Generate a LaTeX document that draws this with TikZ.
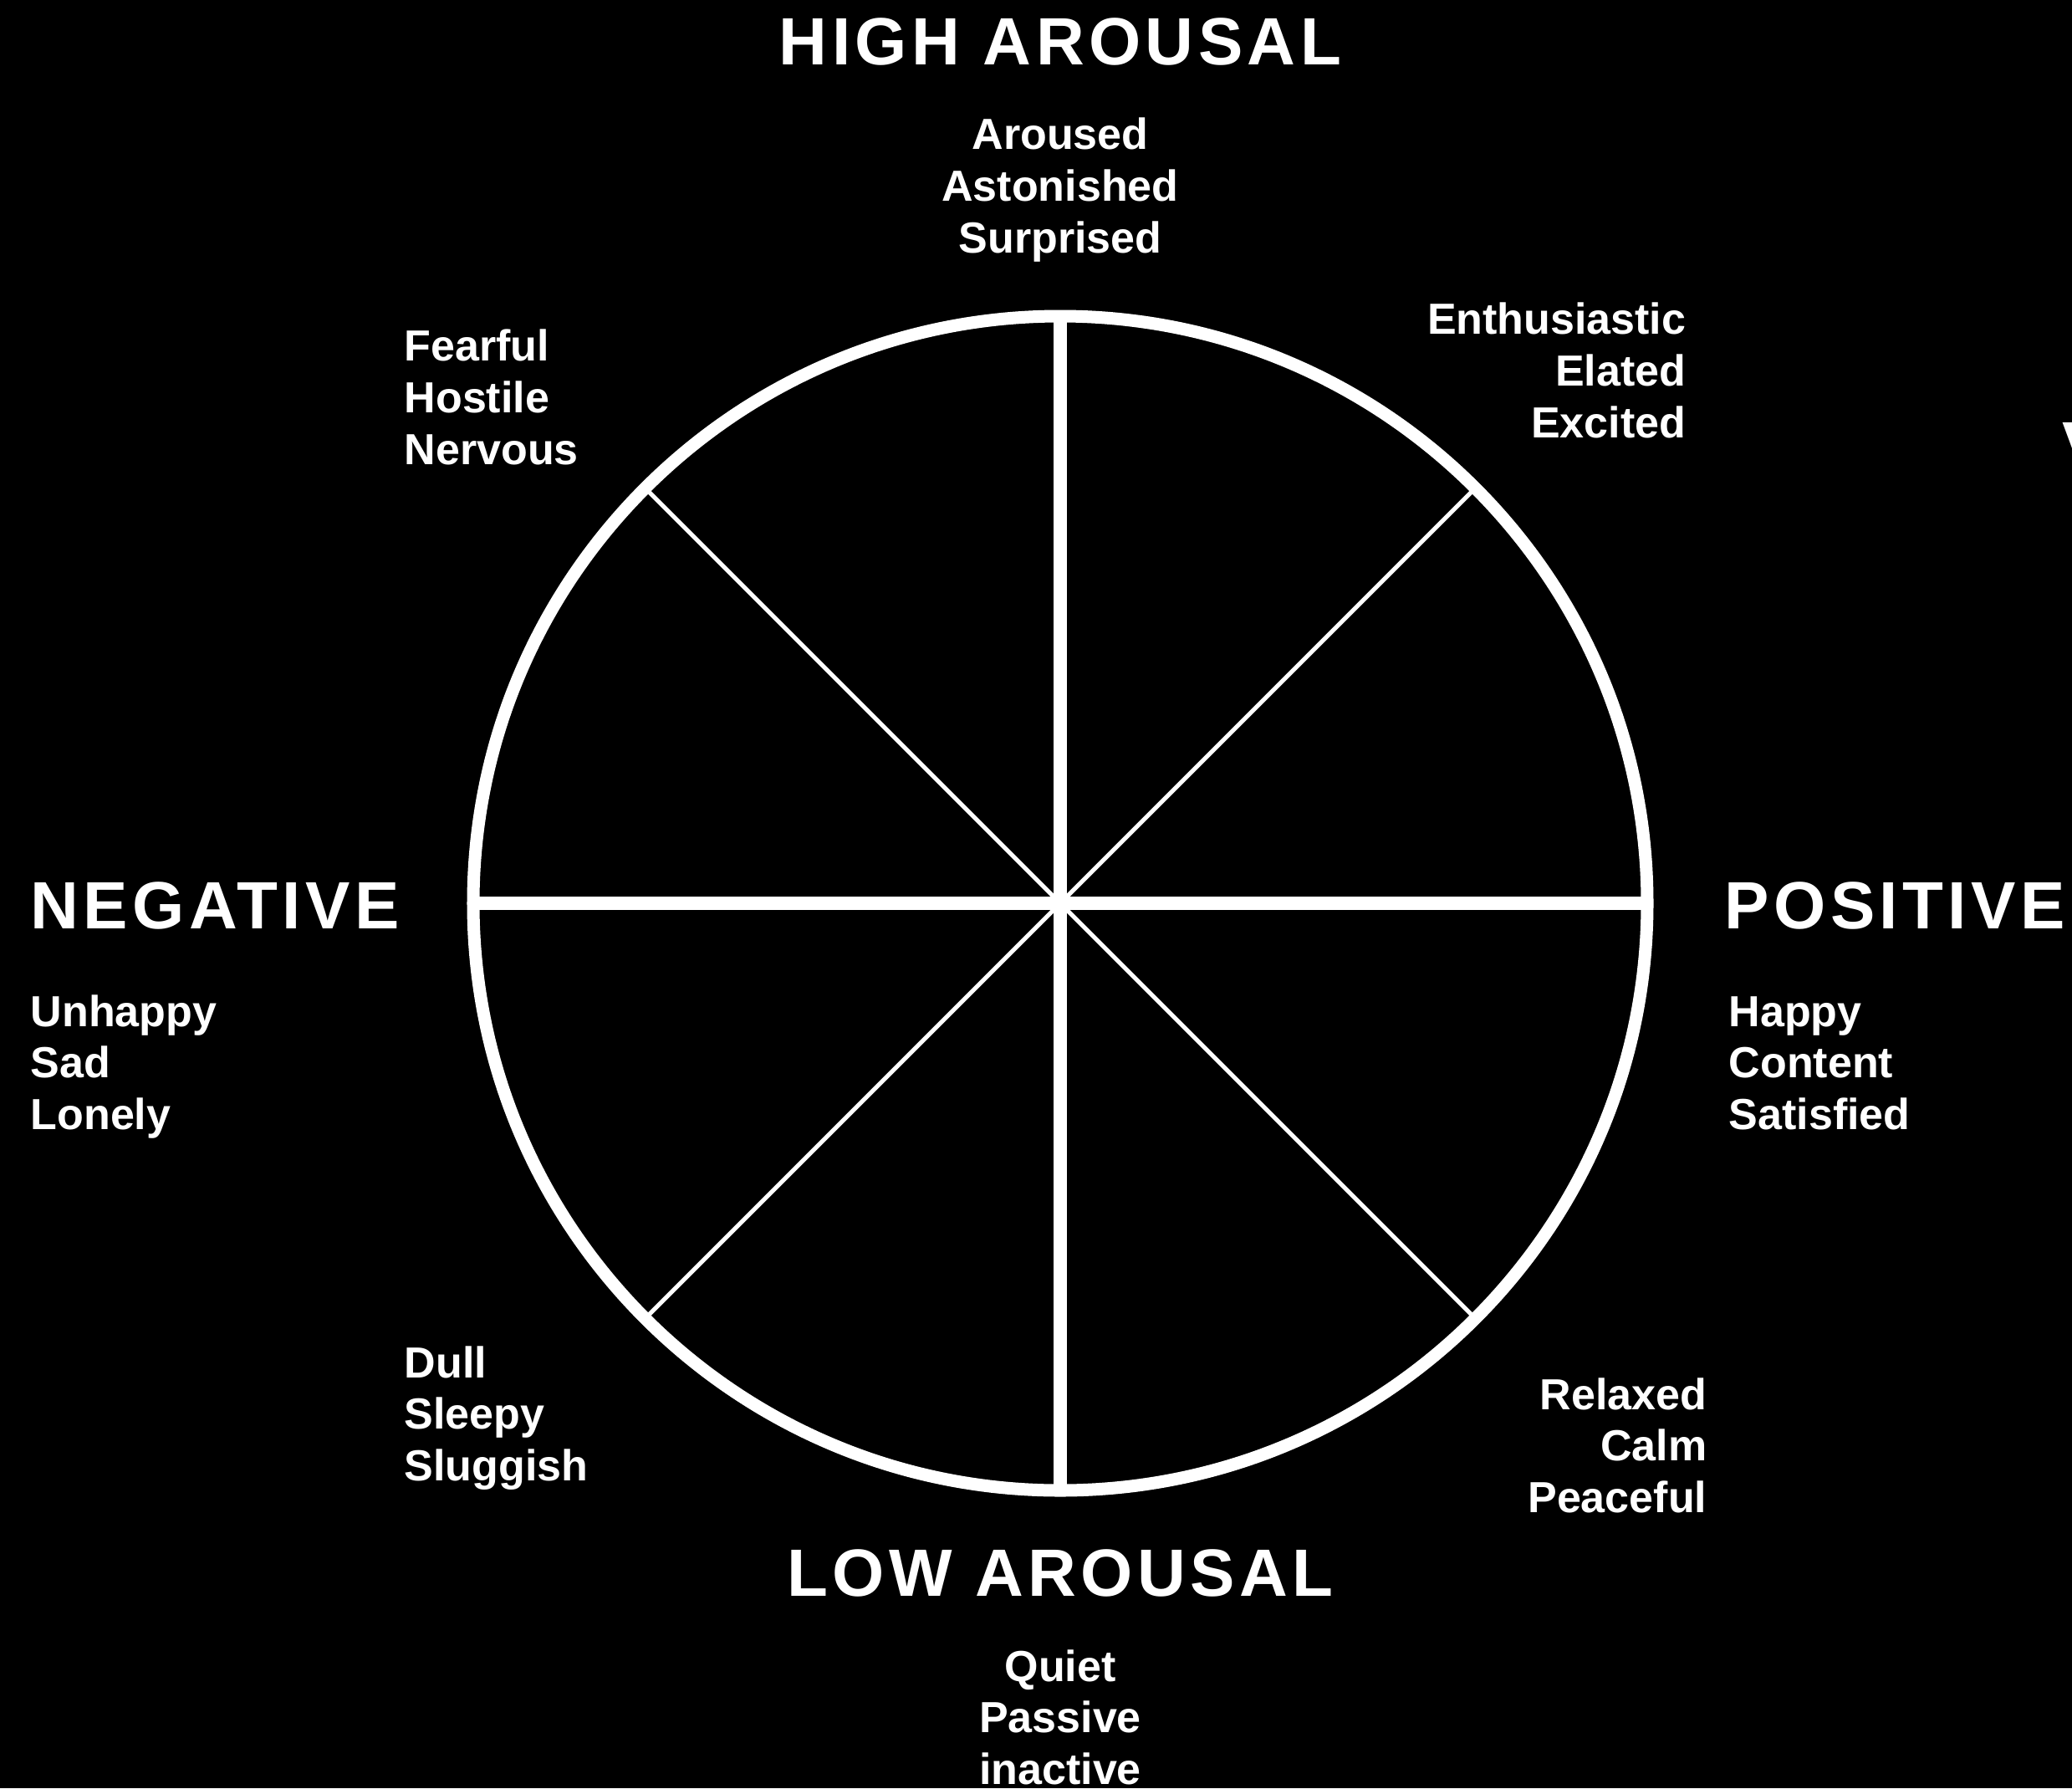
\documentclass[tikz,border=0pt]{standalone}
\usepackage{fontspec}
\setmainfont{Liberation Sans}
\newfontfamily\headfont{Liberation Sans}[LetterSpace=6.8]

\begin{document}
\begin{tikzpicture}[
    rim/.style={draw=white, line width=.15cm},
    axis/.style={draw=white, line width=.16cm},
    spoke/.style={draw=white, line width=.05cm},
    heading/.style={text=white, inner sep=0,
        font=\headfont\bfseries\fontsize{22.76}{27}\selectfont},
    feeling/.style={text=white, inner sep=0,
        font=\bfseries\fontsize{14.8}{17.5}\selectfont},
]
    %% black page, 2478 x 2138 px at 100 px per cm
    \fill[black] (-12.68, -10.58) rectangle (12.10, 10.80);
    \useasboundingbox (-12.68, -10.58) rectangle (12.10, 10.80);

    %% the wheel: hub, rim points, spokes and the two axes
    \coordinate (hub) at (0, 0);
    \foreach \a in {0, 45, ..., 315}{
        \coordinate (rim-\a) at (\a:7.02);
    }
    \foreach \a in {45, 135, 225, 315}{
        \draw[spoke] (hub) -- (rim-\a);
    }
    \draw[axis] (rim-180) -- (rim-0);
    \draw[axis] (rim-90) -- (rim-270);
    \draw[rim] (hub) circle (7.02);

    %% the four poles
    \node[heading, anchor=base] (high) at (0, 10.02) {HIGH AROUSAL};
    \node[heading, anchor=base] (low) at (0, -8.28) {LOW AROUSAL};
    \node[heading, anchor=base west] (neg) at (-12.32, -.30) {NEGATIVE};
    \node[heading, anchor=base west] (pos) at (7.94, -.30) {POSITIVE};
    \node[heading, anchor=base west] (cut) at (11.98, 5.20) {V};

    %% the feelings round the wheel (base = last line)
    \node[feeling, align=center, anchor=base] (aroused) at (0, 7.78)
        {Aroused\\Astonished\\Surprised};
    \node[feeling, align=right, anchor=base east] (excited) at (7.49, 5.57)
        {Enthusiastic\\Elated\\Excited};
    \node[feeling, align=left, anchor=base west] (fearful) at (-7.85, 5.25)
        {Fearful\\Hostile\\Nervous};
    \node[feeling, align=left, anchor=base west] (unhappy) at (-12.32, -2.70)
        {Unhappy\\Sad\\Lonely};
    \node[feeling, align=left, anchor=base west] (happy) at (7.99, -2.70)
        {Happy\\Content\\Satisfied};
    \node[feeling, align=left, anchor=base west] (dull) at (-7.85, -6.90)
        {Dull\\Sleepy\\Sluggish};
    \node[feeling, align=right, anchor=base east] (relaxed) at (7.74, -7.28)
        {Relaxed\\Calm\\Peaceful};
    \node[feeling, align=center, anchor=base] (quiet) at (0, -10.53)
        {Quiet\\Passive\\inactive};
\end{tikzpicture}
\end{document}
